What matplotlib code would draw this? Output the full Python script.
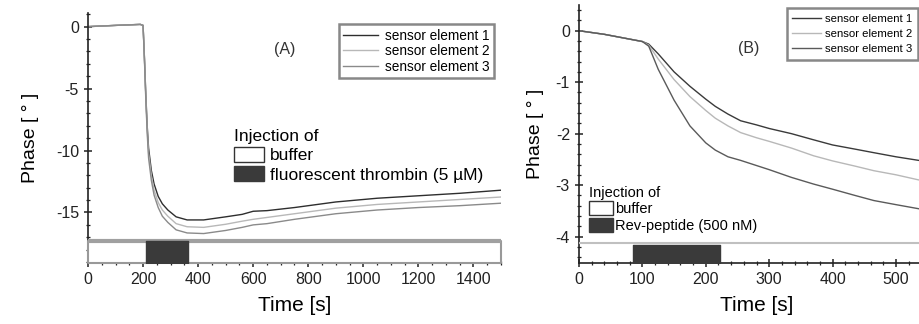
import numpy as np
import matplotlib.pyplot as plt
from matplotlib.patches import Patch
from matplotlib.ticker import MultipleLocator

plt.rcParams['font.family'] = ['Liberation Sans', 'DejaVu Sans']
plt.rcParams['axes.unicode_minus'] = False

# Panel A: fluorescent thrombin
t_A = [0, 100, 190, 200, 205, 210, 215, 220, 230, 240, 255, 270, 290, 320, 360, 420,
       500, 560, 600, 650, 750, 900, 1050, 1200, 1350, 1500]
s1_A = [0.0, 0.1, 0.18, 0.1, -2.5, -5.5, -8.0, -9.8, -11.6, -12.7, -13.7, -14.3, -14.8,
        -15.35, -15.6, -15.6, -15.35, -15.15, -14.9, -14.85, -14.6, -14.15, -13.85,
        -13.65, -13.45, -13.2]
s2_A = [0.0, 0.1, 0.18, 0.1, -2.6, -5.7, -8.3, -10.2, -12.0, -13.2, -14.2, -14.8, -15.3,
        -15.9, -16.15, -16.2, -15.95, -15.7, -15.55, -15.4, -15.1, -14.65, -14.35,
        -14.15, -13.95, -13.75]
s3_A = [0.0, 0.1, 0.18, 0.1, -2.7, -5.9, -8.6, -10.6, -12.4, -13.6, -14.6, -15.3, -15.8,
        -16.4, -16.65, -16.7, -16.45, -16.2, -16.0, -15.9, -15.55, -15.1, -14.8,
        -14.6, -14.45, -14.25]
inj_A = (210, 365)

# Panel B: Rev-peptide
t_B = [0, 40, 70, 100, 110, 125, 150, 175, 200, 215, 235, 255, 280, 300, 335, 370,
       400, 435, 465, 500, 536]
s1_B = [0, -0.07, -0.14, -0.21, -0.26, -0.45, -0.8, -1.08, -1.33, -1.47, -1.62, -1.75,
        -1.83, -1.9, -2.0, -2.12, -2.22, -2.3, -2.37, -2.45, -2.52]
s2_B = [0, -0.07, -0.14, -0.21, -0.28, -0.55, -0.95, -1.28, -1.55, -1.7, -1.85, -1.98,
        -2.08, -2.15, -2.28, -2.43, -2.53, -2.63, -2.72, -2.8, -2.9]
s3_B = [0, -0.07, -0.14, -0.21, -0.3, -0.75, -1.35, -1.85, -2.18, -2.32, -2.45, -2.52,
        -2.62, -2.7, -2.85, -2.98, -3.08, -3.2, -3.3, -3.38, -3.46]
inj_B = (85, 222)

labels = ['sensor element 1', 'sensor element 2', 'sensor element 3']
colors_A = ['#2e2e2e', '#b8b8b8', '#8a8a8a']
colors_B = ['#3a3a3a', '#b8b8b8', '#5a5a5a']
dark = '#3a3a3a'

fig = plt.figure(figsize=(9.19, 3.24), dpi=100)
axA = fig.add_axes([88 / 919, 60.7 / 324, 413 / 919, 250.3 / 324])
axB = fig.add_axes([579 / 919, 60.7 / 324, 355 / 919, 258.3 / 324])


def style_axes(ax):
    for s in ['top', 'right']:
        ax.spines[s].set_visible(False)
    for s in ['left', 'bottom']:
        ax.spines[s].set_linewidth(1.2)
        ax.spines[s].set_color('#222222')
    ax.tick_params(which='major', direction='inout', length=6, width=1.1,
                   labelsize=11.5, colors='#222222')
    ax.tick_params(which='minor', direction='inout', length=3.5, width=0.9,
                   colors='#222222')


# ---- Panel A ----
for y, c, l in zip([s1_A, s2_A, s3_A], colors_A, labels):
    axA.plot(t_A, y, color=c, lw=1.0, label=l)
axA.set_xlim(0, 1500)
axA.set_ylim(-19.1, 1.1)
band_top_A = -17.3
axA.broken_barh([(0, 1500)], (-19.1, band_top_A + 19.1), facecolors='white',
                edgecolors='#999999', linewidth=1.5, zorder=3, clip_on=False)
axA.plot([0, 1500], [band_top_A, band_top_A], color='#a0a0a0', lw=3, zorder=4)
axA.broken_barh([(inj_A[0], inj_A[1] - inj_A[0])], (-19.1, band_top_A + 19.1),
                facecolors=dark, edgecolors=dark, zorder=5)
axA.xaxis.set_major_locator(MultipleLocator(200))
axA.xaxis.set_minor_locator(MultipleLocator(50))
axA.yaxis.set_major_locator(MultipleLocator(5))
axA.yaxis.set_minor_locator(MultipleLocator(1))
style_axes(axA)
axA.set_xlabel('Time [s]', fontsize=15, labelpad=6)
axA.set_ylabel('Phase [ ° ]', fontsize=14, labelpad=12)
axA.text(0.477, 0.856, '(A)', transform=axA.transAxes, fontsize=11.5,
         ha='center', va='center', color='#333333')
legA = axA.legend(loc='upper left', bbox_to_anchor=(0.6, 0.965), fontsize=9.8,
                  frameon=True, fancybox=False, edgecolor='#888888', framealpha=1,
                  handlelength=2.6, borderpad=0.3, labelspacing=0.12, handletextpad=0.5,
                  borderaxespad=0.2)
legA.get_frame().set_linewidth(1.8)
axA.add_artist(legA)
axA.legend(handles=[Patch(facecolor='white', edgecolor='#333333', label='buffer'),
                    Patch(facecolor=dark, edgecolor=dark,
                          label='fluorescent thrombin (5 µM)')],
           title='Injection of', title_fontsize=12.5, fontsize=12.5,
           loc='upper left', bbox_to_anchor=(0.325, 0.585), frameon=False,
           alignment='left', handlelength=1.7, handleheight=1.0,
           handletextpad=0.35, labelspacing=0.15, borderpad=0.2)

# ---- Panel B ----
for y, c, l in zip([s1_B, s2_B, s3_B], colors_B, labels):
    axB.plot(t_B, y, color=c, lw=1.0, label=l)
axB.set_xlim(0, 560)
axB.set_ylim(-4.52, 0.5)
band_top_B = -4.13
axB.plot([0, 560], [band_top_B, band_top_B], color='#c0c0c0', lw=1.5, zorder=4)
axB.broken_barh([(inj_B[0], inj_B[1] - inj_B[0])], (-4.52, 4.52 - 4.17),
                facecolors=dark, edgecolors=dark, zorder=5)
axB.xaxis.set_major_locator(MultipleLocator(100))
axB.xaxis.set_minor_locator(MultipleLocator(20))
axB.yaxis.set_major_locator(MultipleLocator(1))
axB.yaxis.set_minor_locator(MultipleLocator(0.2))
style_axes(axB)
axB.set_xlabel('Time [s]', fontsize=15, labelpad=6)
axB.set_ylabel('Phase [ ° ]', fontsize=14, labelpad=8)
axB.text(0.479, 0.83, '(B)', transform=axB.transAxes, fontsize=11.5,
         ha='center', va='center', color='#333333')
legB = axB.legend(loc='upper left', bbox_to_anchor=(0.575, 1.0), fontsize=8.2,
                  frameon=True, fancybox=False, edgecolor='#888888', framealpha=1,
                  handlelength=2.5, borderpad=0.5, labelspacing=0.45, handletextpad=0.4,
                  borderaxespad=0.3)
legB.get_frame().set_linewidth(1.8)
axB.add_artist(legB)
axB.legend(handles=[Patch(facecolor='white', edgecolor='#333333', label='buffer'),
                    Patch(facecolor=dark, edgecolor=dark, label='Rev-peptide (500 nM)')],
           title='Injection of', title_fontsize=10.5, fontsize=10.5,
           loc='upper left', bbox_to_anchor=(0.0, 0.34), frameon=False,
           alignment='left', handlelength=1.6, handleheight=1.1,
           handletextpad=0.15, labelspacing=0.1, borderpad=0.2)

fig.savefig('out.png', dpi=100)
